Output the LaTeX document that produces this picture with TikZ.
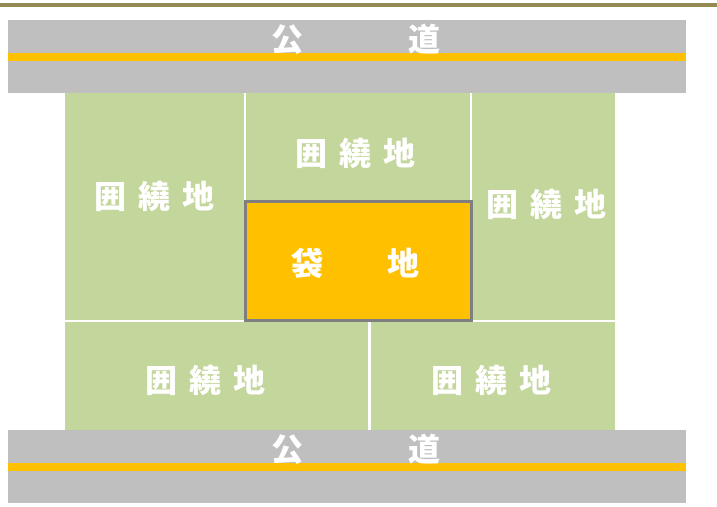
\documentclass[tikz,border=0pt]{standalone}
\usepackage{fontspec}
\newfontfamily\cjk{Noto Sans CJK JP}
\definecolor{landgreen}{HTML}{C3D69B}
\definecolor{bagorange}{HTML}{FFC000}
\definecolor{roadgray}{HTML}{BFBFBF}
\definecolor{bordergray}{HTML}{7F7F7F}
\definecolor{olive}{HTML}{948A54}
\tikzset{
  land/.style={fill=landgreen, draw=white, line width=2.5pt},
  road/.style={fill=roadgray, draw=none},
  stripe/.style={fill=bagorange, draw=none},
  lbl/.style={text=white, font=\cjk\bfseries\fontsize{32}{34}\selectfont, inner sep=0pt},
}
\newcommand{\cgap}{\hspace{12pt}}
\begin{document}
\begin{tikzpicture}[x=1pt,y=-1pt]
\useasboundingbox (0,0) rectangle (717,506);
\fill[white] (0,0) rectangle (717,506);
% top rule
\fill[olive] (0,3) rectangle (717,6.5);
% roads
\fill[road] (8,20) rectangle (686,93);
\fill[stripe] (8,53) rectangle (686,61);
\fill[road] (8,430) rectangle (686,503);
\fill[stripe] (8,463) rectangle (686,471);
% surrounding lands
\fill[landgreen] (65,93) rectangle (615,430);
\draw[white,line width=2.5pt] (245,93) -- (245,321);
\draw[white,line width=2.5pt] (471,93) -- (471,321);
\draw[white,line width=2.5pt] (65,321) -- (615,321);
\draw[white,line width=2.5pt] (369.5,321) -- (369.5,430);
% bag land
\draw[fill=bagorange, draw=bordergray, line width=3pt] (245.5,201.5) rectangle (471,320.5);
% labels
\node[lbl] (l1) at (154,196) {囲\cgap 繞\cgap 地};
\node[lbl] (l2) at (355,153) {囲\cgap 繞\cgap 地};
\node[lbl] (l3) at (546,204) {囲\cgap 繞\cgap 地};
\node[lbl] (l4) at (205,380) {囲\cgap 繞\cgap 地};
\node[lbl] (l5) at (491,380) {囲\cgap 繞\cgap 地};
\node[lbl] (b1) at (355,263) {袋\hspace{64pt}地};
\node[lbl] (r1) at (356,39) {公\hspace{105pt}道};
\node[lbl] (r2) at (356,449) {公\hspace{105pt}道};
\end{tikzpicture}
\end{document}
